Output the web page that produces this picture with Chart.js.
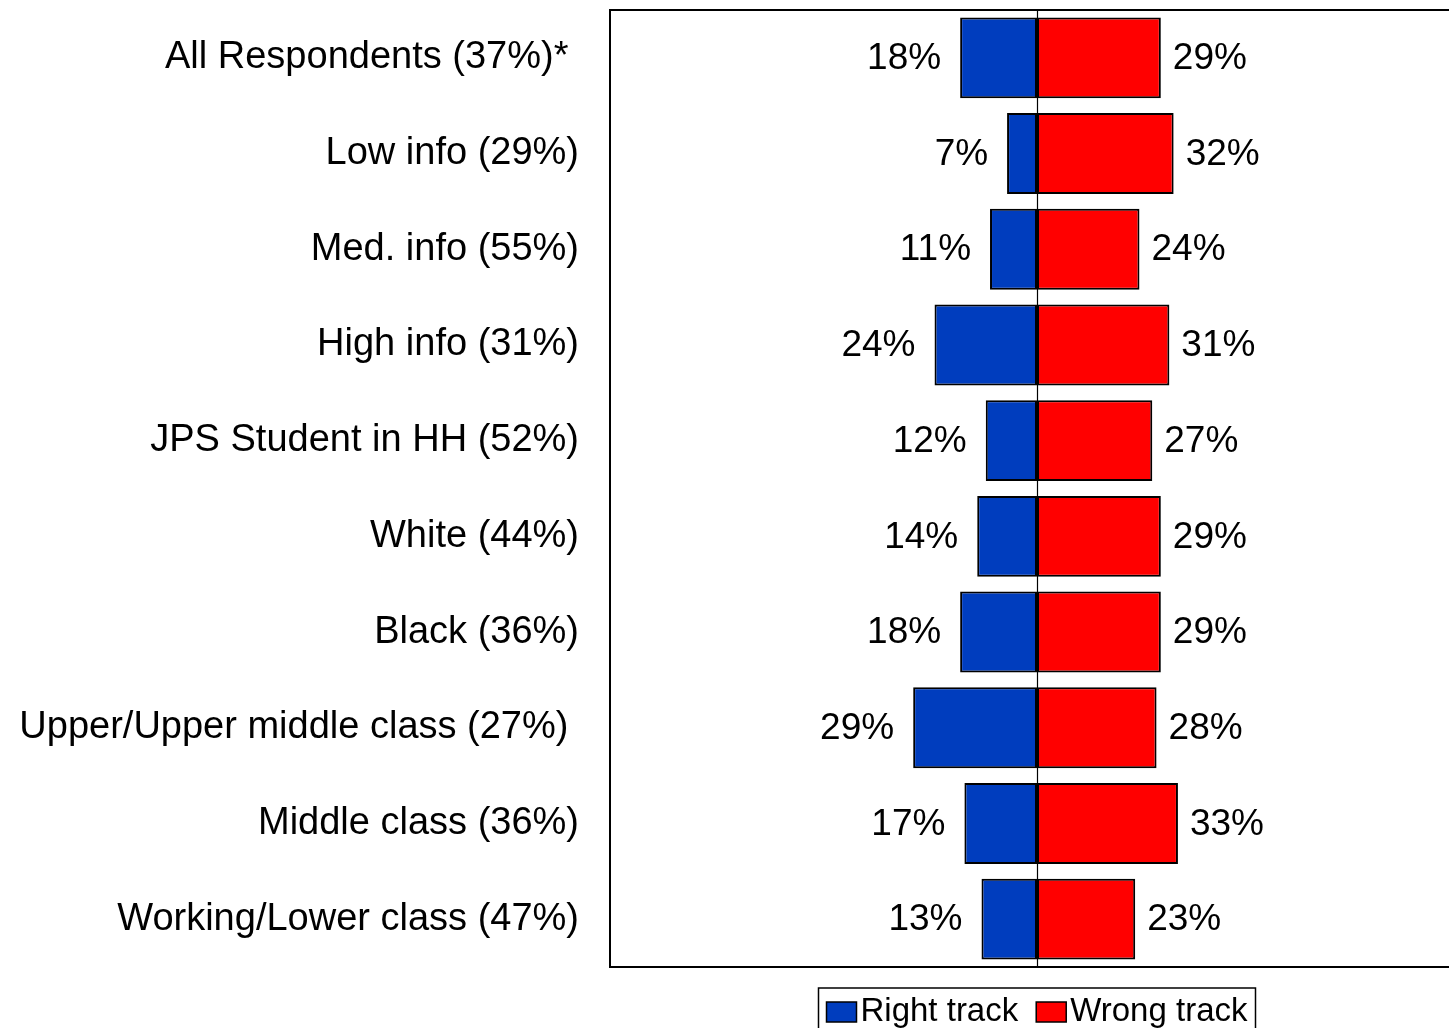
<!DOCTYPE html>
<html>
<head>
<meta charset="utf-8">
<script src="https://cdn.jsdelivr.net/npm/chart.js@4/dist/chart.umd.min.js"></script>
<style>
  html, body { margin: 0; padding: 0; background: #fff; overflow: hidden; }
  #wrap { width: 1449px; height: 1028px; overflow: hidden; }
  canvas { display: block; }
</style>
</head>
<body>
<div id="wrap"><canvas id="c" width="1466" height="1028"></canvas></div>
<script>
const categories = [
  "All Respondents (37%)* ",
  "Low info (29%)",
  "Med. info (55%)",
  "High info (31%)",
  "JPS Student in HH (52%)",
  "White (44%)",
  "Black (36%)",
  "Upper/Upper middle class (27%) ",
  "Middle class (36%)",
  "Working/Lower class (47%)"
];
const seriesNames = ["Right track", "Wrong track"];
const rightTrack = [18, 7, 11, 24, 12, 14, 18, 29, 17, 13];
const wrongTrack = [29, 32, 24, 31, 27, 29, 29, 28, 33, 23];
const axisMin = -100;
const axisMax = 100;

const FONT = "'Liberation Sans', Arial, sans-serif";
const BLUE = "#003DBE";
const RED = "#FF0000";

const frameAndZero = {
  id: 'frameAndZero',
  afterDatasetsDraw(chart) {
    const ctx = chart.ctx, a = chart.chartArea, xs = chart.scales.x;
    ctx.save();
    const x0 = Math.round(xs.getPixelForValue(0)) + 0.5;
    ctx.strokeStyle = '#000';
    ctx.lineWidth = 1.2;
    ctx.beginPath();
    ctx.moveTo(x0, a.top);
    ctx.lineTo(x0, a.bottom);
    ctx.stroke();
    ctx.lineWidth = 2;
    ctx.strokeRect(a.left, a.top, a.right - a.left, a.bottom - a.top);
    ctx.restore();
  }
};

const valueLabels = {
  id: 'valueLabels',
  afterDatasetsDraw(chart) {
    const ctx = chart.ctx;
    ctx.save();
    ctx.font = "37px " + FONT;
    ctx.fillStyle = '#000';
    ctx.textBaseline = 'middle';
    chart.data.datasets.forEach((ds, di) => {
      const meta = chart.getDatasetMeta(di);
      meta.data.forEach((bar, i) => {
        const v = Math.abs(ds.data[i]);
        const txt = v + '%';
        if (ds.data[i] < 0) {
          ctx.textAlign = 'right';
          ctx.fillText(txt, bar.x - 19, bar.y + 1);
        } else {
          ctx.textAlign = 'left';
          ctx.fillText(txt, bar.x + 12, bar.y + 1);
        }
      });
    });
    ctx.restore();
  }
};

const boxLegend = {
  id: 'boxLegend',
  afterDraw(chart) {
    const ctx = chart.ctx, xs = chart.scales.x;
    ctx.save();
    ctx.font = "33px " + FONT;
    const items = chart.data.datasets.map(d => ({ text: d.label, color: d.backgroundColor, w: ctx.measureText(d.label).width }));
    const pad = 8, sw = 30, sh = 20, gap = 4, sep = 18;
    let total = pad * 2;
    items.forEach((it, i) => { total += sw + gap + it.w + (i > 0 ? sep : 0); });
    const cx = xs.getPixelForValue(0);
    const left = cx - total / 2;
    const top = 988;
    ctx.strokeStyle = '#000';
    ctx.lineWidth = 1.5;
    ctx.strokeRect(left, top, total, 52);
    let x = left + pad;
    items.forEach((it, i) => {
      if (i > 0) x += sep;
      ctx.fillStyle = it.color;
      ctx.fillRect(x, 1002, sw, sh);
      ctx.strokeRect(x, 1002, sw, sh);
      x += sw + gap;
      ctx.fillStyle = '#000';
      ctx.textAlign = 'left';
      ctx.textBaseline = 'alphabetic';
      ctx.fillText(it.text, x, 1021);
      x += it.w;
    });
    ctx.restore();
  }
};

new Chart(document.getElementById('c'), {
  type: 'bar',
  data: {
    labels: categories,
    datasets: [
      { label: seriesNames[0], data: rightTrack.map(v => -v), backgroundColor: BLUE, borderColor: '#000', borderWidth: 2, borderSkipped: false },
      { label: seriesNames[1], data: wrongTrack, backgroundColor: RED, borderColor: '#000', borderWidth: 2, borderSkipped: false }
    ]
  },
  options: {
    indexAxis: 'y',
    responsive: false,
    animation: false,
    devicePixelRatio: 1,
    layout: { padding: { top: 10, bottom: 61, left: 0, right: 2 } },
    barPercentage: 0.845,
    categoryPercentage: 1,
    plugins: { legend: { display: false }, tooltip: { enabled: false } },
    scales: {
      x: {
        stacked: true, min: axisMin, max: axisMax, display: false
      },
      y: {
        stacked: true,
        grid: { display: false, drawTicks: true, tickLength: 31 },
        border: { display: false },
        ticks: { color: '#000', font: { family: FONT, size: 38, lineHeight: 0.5 }, padding: 0 },
        afterFit(scale) { scale.width = 610; }
      }
    }
  },
  plugins: [frameAndZero, valueLabels, boxLegend]
});
</script>
</body>
</html>
